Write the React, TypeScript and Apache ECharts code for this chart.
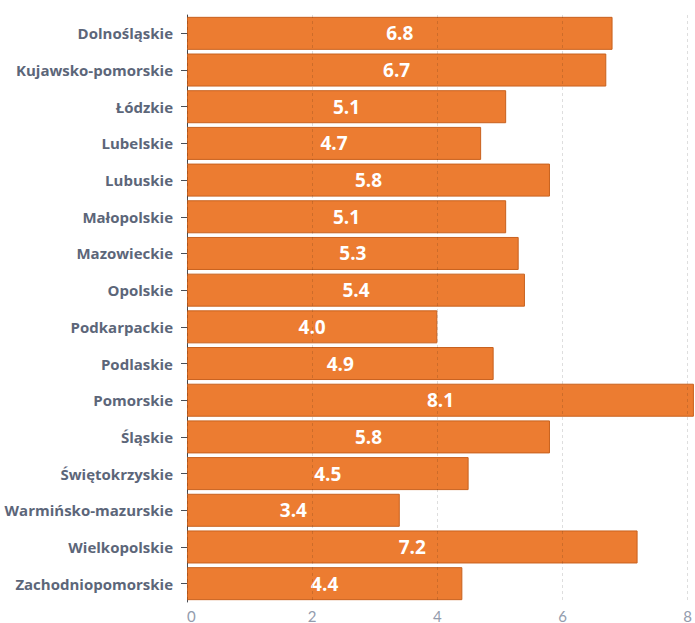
import React, { useEffect, useRef } from "react";
import * as echarts from "echarts";

const categories = [
  "Dolnośląskie",
  "Kujawsko-pomorskie",
  "Łódzkie",
  "Lubelskie",
  "Lubuskie",
  "Małopolskie",
  "Mazowieckie",
  "Opolskie",
  "Podkarpackie",
  "Podlaskie",
  "Pomorskie",
  "Śląskie",
  "Świętokrzyskie",
  "Warmińsko-mazurskie",
  "Wielkopolskie",
  "Zachodniopomorskie",
];

const values = [6.8, 6.7, 5.1, 4.7, 5.8, 5.1, 5.3, 5.4, 4.0, 4.9, 8.1, 5.8, 4.5, 3.4, 7.2, 4.4];

const xTicks = [0, 2, 4, 6, 8];

export default function App() {
  const ref = useRef<HTMLDivElement>(null);
  useEffect(() => {
    if (!ref.current) return;
    const chart = echarts.init(ref.current, undefined, { renderer: "svg" });
    chart.setOption({
      animation: false,
      grid: { left: 187, right: 6, top: 15, bottom: 20, containLabel: false },
      xAxis: {
        type: "value",
        min: xTicks[0],
        max: xTicks[xTicks.length - 1],
        interval: 2,
        z: 3,
        axisLine: { show: false },
        axisTick: { show: false },
        axisLabel: {
          color: "#939cad",
          fontSize: 15,
          fontFamily: "Lato",
          margin: 6,
          alignMinLabel: "left",
        },
        splitLine: {
          show: true,
          lineStyle: { color: "rgba(0,0,0,0.13)", type: [3, 3], width: 1 },
        },
      },
      yAxis: {
        type: "category",
        inverse: true,
        data: categories,
        axisLine: { show: true, lineStyle: { color: "#4a4f57", width: 1 } },
        axisTick: { show: true, length: 6, alignWithLabel: true, lineStyle: { color: "#4a4f57" } },
        axisLabel: {
          color: "#5c6679",
          fontSize: 15,
          fontWeight: "bold",
          fontFamily: "Open Sans",
          margin: 14,
        },
        splitLine: { show: false },
      },
      series: [
        {
          type: "bar",
          data: values,
          clip: false,
          barCategoryGap: "10%",
          itemStyle: {
            color: "#ec7c31",
            borderColor: "#c8611e",
            borderWidth: 1,
          },
          label: {
            show: true,
            position: "inside",
            color: "#ffffff",
            fontSize: 19,
            fontWeight: "bold",
            fontFamily: "Open Sans",
            formatter: (p: any) => Number(p.value).toFixed(1),
          },
        },
      ],
    });
    return () => chart.dispose();
  }, []);
  return (
    <div
      ref={ref}
      style={{ position: "absolute", left: 0, top: 0, width: 695, height: 623 }}
    />
  );
}
